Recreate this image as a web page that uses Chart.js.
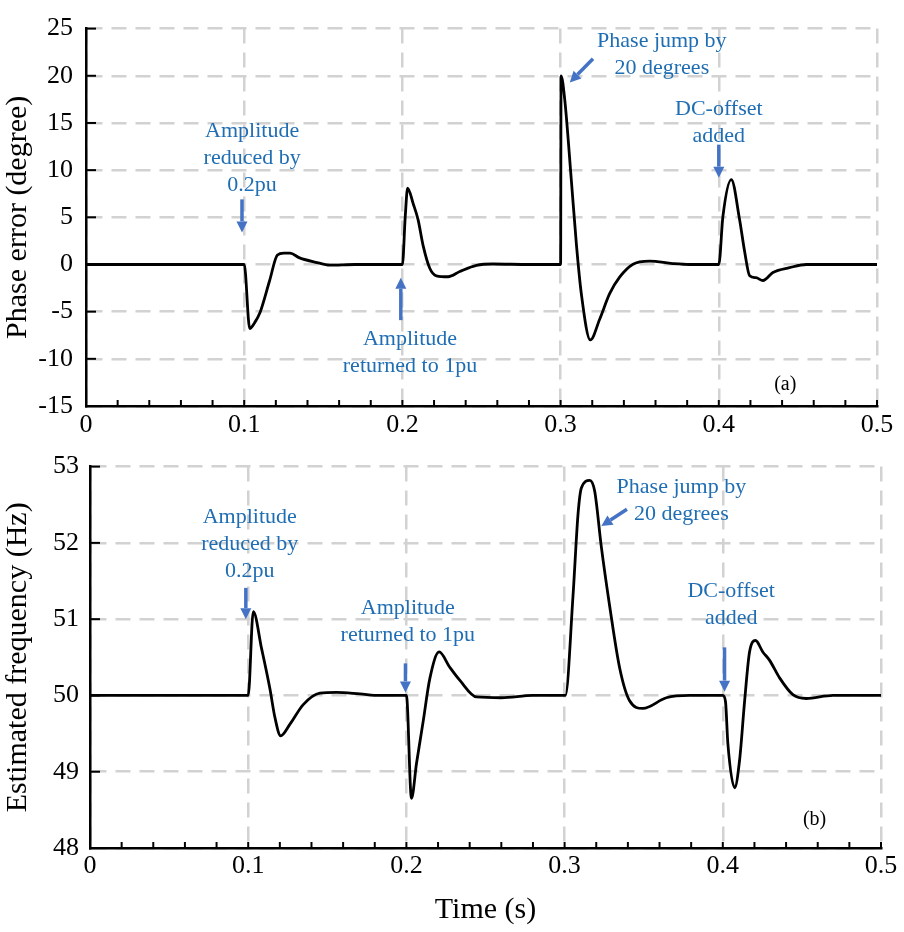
<!DOCTYPE html>
<html>
<head>
<meta charset="utf-8">
<script src="https://cdn.jsdelivr.net/npm/chart.js@4.4.1/dist/chart.umd.min.js"></script>
<style>
  html, body { margin: 0; padding: 0; background: #fff; }
  #wrap { position: relative; width: 904px; height: 932px; }
  canvas { position: absolute; left: 0; }
  #top { top: 0; }
  #bot { top: 440px; }
</style>
</head>
<body>
<div id="wrap">
  <canvas id="top" width="904" height="440"></canvas>
  <canvas id="bot" width="904" height="492"></canvas>
</div>
<script>
// (a) phase error
const tTop = [0, 0.1, 0.1035, 0.1065, 0.110, 0.116, 0.121, 0.125, 0.129, 0.135, 0.146, 0.154, 0.17,
  0.2, 0.2018, 0.2033, 0.2068, 0.2099, 0.2131, 0.2173, 0.2215, 0.2289, 0.2363, 0.2468, 0.2573, 0.28,
  0.3, 0.3003, 0.3026, 0.3068, 0.310, 0.3131, 0.3188, 0.3247, 0.331, 0.3373, 0.3455, 0.3563, 0.3708, 0.3816,
  0.4, 0.4026, 0.4079, 0.4131, 0.4163, 0.4195, 0.4235, 0.4279, 0.4342, 0.4447, 0.4553, 0.5];
const phaseErr = [0, 0, -6.8, -6.2, -5.1, -1.75, 1.0, 1.2, 1.2, 0.7, 0.2, -0.07, 0,
  0, 5.1, 8.1, 6.45, 4.75, 2.0, -0.4, -1.2, -1.3, -0.75, -0.1, 0.05, 0,
  0, 20.0, 17.5, 8.9, 2.1, -3.1, -8.0, -5.8, -3.1, -1.35, 0, 0.35, 0.1, 0,
  0, 5.1, 9.0, 4.8, 1.4, -1.2, -1.4, -1.7, -0.85, -0.34, 0, 0];

// (b) estimated frequency
const tBot = [0, 0.1, 0.1032, 0.1085, 0.1137, 0.1169, 0.1205, 0.1263, 0.1348, 0.1453, 0.1558, 0.1706, 0.183,
  0.2, 0.2032, 0.2064, 0.2106, 0.2148, 0.2207, 0.2274, 0.2337, 0.2443, 0.26, 0.28,
  0.3005, 0.3053, 0.3085, 0.3106, 0.3159, 0.319, 0.3232, 0.3285, 0.3348, 0.3411, 0.3495, 0.3643, 0.379,
  0.4, 0.4017, 0.4032, 0.4075, 0.4106, 0.4138, 0.4169, 0.4207, 0.4253, 0.4296, 0.4359, 0.4443, 0.4527, 0.4696, 0.5];
const freq = [50, 50, 51.1, 50.61, 50.09, 49.71, 49.47, 49.62, 49.88, 50.03, 50.04, 50.02, 50,
  50, 48.65, 49.11, 49.66, 50.22, 50.57, 50.37, 50.2, 49.98, 49.97, 50,
  50, 51.3, 52.38, 52.72, 52.82, 52.68, 51.95, 51.17, 50.36, 49.93, 49.83, 49.97, 50,
  50, 49.92, 49.37, 48.79, 49.15, 49.93, 50.57, 50.72, 50.57, 50.46, 50.23, 50.01, 49.96, 50, 50];

const notesTop = [
  { lines: ['Amplitude', 'reduced by', '0.2pu'], x: 0.105, y: 14.1 },
  { lines: ['Amplitude', 'returned to 1pu'], x: 0.2048, y: -7.9 },
  { lines: ['Phase jump by', '20 degrees'], x: 0.364, y: 23.7 },
  { lines: ['DC-offset', 'added'], x: 0.4, y: 16.5 }
];
const arrowsTop = [
  { from: [0.0986, 6.9], to: [0.0986, 3.4] },
  { from: [0.199, -5.9], to: [0.199, -1.4] },
  { from: [0.3205, 21.8], to: [0.3058, 19.3] },
  { from: [0.4, 12.7], to: [0.4, 9.2] }
];
const notesBot = [
  { lines: ['Amplitude', 'reduced by', '0.2pu'], x: 0.101, y: 52.34 },
  { lines: ['Amplitude', 'returned to 1pu'], x: 0.2009, y: 51.14 },
  { lines: ['Phase jump by', '20 degrees'], x: 0.3738, y: 52.73 },
  { lines: ['DC-offset', 'added'], x: 0.4053, y: 51.36 }
];
const arrowsBot = [
  { from: [0.0985, 51.41], to: [0.0985, 51.0] },
  { from: [0.1994, 50.42], to: [0.1994, 50.04] },
  { from: [0.3394, 52.44], to: [0.3232, 52.22] },
  { from: [0.4011, 50.63], to: [0.4011, 50.05] }
];

const serif = '"Liberation Serif", "Times New Roman", serif';

const decor = {
  id: 'decor',
  afterDatasetsDraw(chart, args, opts) {
    const { ctx, chartArea: a, scales: { x, y } } = chart;
    ctx.save();
    ctx.strokeStyle = '#000';
    ctx.lineWidth = 2;
    // inward ticks
    y.ticks.forEach(t => {
      const py = y.getPixelForValue(t.value);
      ctx.beginPath(); ctx.moveTo(a.left, py); ctx.lineTo(a.left + 10, py); ctx.stroke();
    });
    for (let i = 1; i <= 25; i++) {
      const px = x.getPixelForValue(i * 0.02);
      ctx.beginPath(); ctx.moveTo(px, a.bottom); ctx.lineTo(px, a.bottom - 6); ctx.stroke();
    }
    // notes
    ctx.font = '22px ' + serif;
    ctx.fillStyle = '#1f6db3';
    ctx.textAlign = 'center';
    ctx.textBaseline = 'middle';
    opts.notes.forEach(n => {
      const px = x.getPixelForValue(n.x), py = y.getPixelForValue(n.y);
      n.lines.forEach((s, i) => ctx.fillText(s, px, py + i * 27));
    });
    // arrows
    ctx.strokeStyle = '#4472c4';
    ctx.fillStyle = '#4472c4';
    ctx.lineWidth = 3.5;
    opts.arrows.forEach(ar => {
      const x1 = x.getPixelForValue(ar.from[0]), y1 = y.getPixelForValue(ar.from[1]);
      const x2 = x.getPixelForValue(ar.to[0]), y2 = y.getPixelForValue(ar.to[1]);
      const ang = Math.atan2(y2 - y1, x2 - x1);
      const hl = 11, hw = 5.5;
      const bx = x2 - hl * Math.cos(ang), by = y2 - hl * Math.sin(ang);
      ctx.beginPath(); ctx.moveTo(x1, y1); ctx.lineTo(bx, by); ctx.stroke();
      ctx.beginPath();
      ctx.moveTo(x2, y2);
      ctx.lineTo(bx + hw * Math.sin(ang), by - hw * Math.cos(ang));
      ctx.lineTo(bx - hw * Math.sin(ang), by + hw * Math.cos(ang));
      ctx.closePath(); ctx.fill();
    });
    // panel label
    ctx.fillStyle = '#000';
    ctx.font = '20px ' + serif;
    ctx.fillText(opts.label.text, x.getPixelForValue(opts.label.x), y.getPixelForValue(opts.label.y));
    ctx.restore();
  }
};

function makeChart(id, xs, ys, cfg) {
  const gridStyle = { color: '#d2d2d2', lineWidth: 2.5, drawTicks: false };
  const borderStyle = { color: '#000', width: 2.5, dash: [15, 9] };
  return new Chart(document.getElementById(id), {
    type: 'line',
    data: {
      datasets: [{
        data: xs.map((t, i) => ({ x: t, y: ys[i] })),
        borderColor: '#000',
        borderWidth: 2.8,
        pointRadius: 0,
        cubicInterpolationMode: 'monotone',
        fill: false
      }]
    },
    options: {
      responsive: false,
      animation: false,
      devicePixelRatio: 1,
      layout: { padding: { top: cfg.padTop, right: cfg.padRight, left: 0, bottom: 0 } },
      plugins: {
        legend: { display: false },
        tooltip: { enabled: false },
        decor: { notes: cfg.notes, arrows: cfg.arrows, label: cfg.label }
      },
      scales: {
        x: {
          type: 'linear', min: 0, max: 0.5,
          grid: gridStyle, border: borderStyle,
          ticks: { stepSize: 0.1, padding: cfg.xPad, color: '#000', font: { family: serif, size: 26 } },
          title: cfg.xTitle ? { display: true, text: cfg.xTitle, color: '#000', font: { family: serif, size: 30 }, padding: { top: 0, bottom: 4 } } : { display: false },
          afterFit: s => { s.height = cfg.xHeight; }
        },
        y: {
          min: cfg.yMin, max: cfg.yMax,
          grid: gridStyle, border: borderStyle,
          ticks: { stepSize: cfg.yStep, padding: cfg.yPad, color: '#000', font: { family: serif, size: 26 } },
          title: { display: true, text: cfg.yTitle, color: '#000', font: { family: serif, size: 30 }, padding: { top: 0, bottom: 0 } },
          afterFit: s => { s.width = cfg.yWidth; }
        }
      }
    },
    plugins: [decor]
  });
}

makeChart('top', tTop, phaseErr, {
  padTop: 17, padRight: 27, xHeight: 34, yWidth: 86, xPad: 4, yPad: 13,
  yMin: -15, yMax: 25, yStep: 5, yTitle: 'Phase error (degree)',
  notes: notesTop, arrows: arrowsTop, label: { text: '(a)', x: 0.442, y: -12.7 }
});

makeChart('bot', tBot, freq, {
  padTop: 23, padRight: 23, xHeight: 84, yWidth: 90, xPad: 3, yPad: 11,
  yMin: 48, yMax: 53, yStep: 1, yTitle: 'Estimated frequency (Hz)', xTitle: 'Time (s)',
  notes: notesBot, arrows: arrowsBot, label: { text: '(b)', x: 0.458, y: 48.37 }
});
</script>
</body>
</html>
